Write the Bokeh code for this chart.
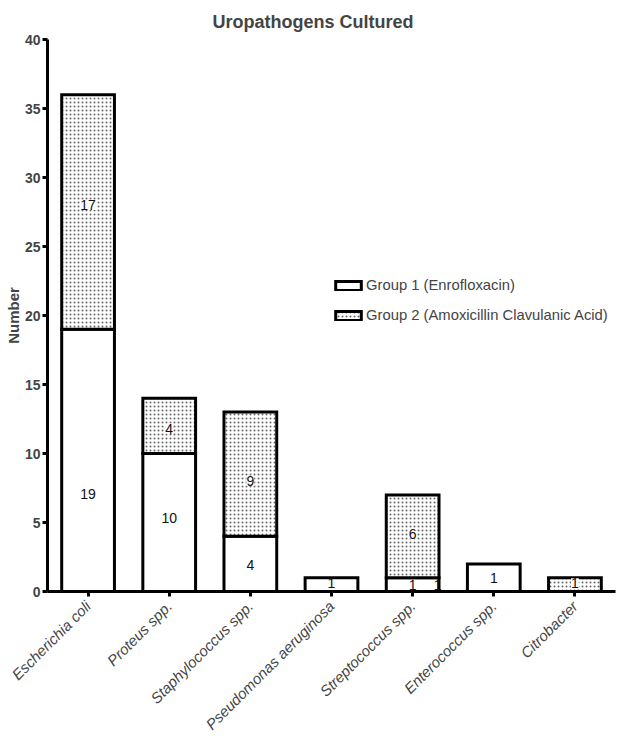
from bokeh.plotting import figure
from bokeh.models import ColumnDataSource, FactorRange, Range1d, Legend, LegendItem, LabelSet, FixedTicker
from bokeh.embed import file_html
from bokeh.resources import INLINE
from bokeh.core.properties import value
import math

categories = ["Escherichia coli", "Proteus spp.", "Staphylococcus spp.",
              "Pseudomonas aeruginosa", "Streptococcus spp.", "Enterococcus spp.", "Citrobacter"]
group1 = [19, 10, 4, 1, 1, 2, 0]
group2 = [17, 4, 9, 0, 6, 0, 1]
# numbers printed inside the bars, as they appear in the chart
group1_labels = ["19", "10", "4", "1", "1", "1", ""]
group2_labels = ["17", "4", "9", "", "6", "", "1"]
group1_label_y = [7.1, 5.3, 1.9, 0.6, 0.45, 0.95, 0]
group2_label_y = [28.0, 11.8, 8.0, 0, 4.2, 0, 0.6]
y_ticks = [0, 5, 10, 15, 20, 25, 30, 35, 40]
series_names = ["Group 1 (Enrofloxacin)", "Group 2 (Amoxicillin Clavulanic Acid)"]

FONT = "Liberation Sans"

p = figure(x_range=FactorRange(*categories), y_range=Range1d(0, 40),
           frame_width=568, frame_height=552,
           min_border_left=47, min_border_right=16, min_border_top=39, min_border_bottom=137,
           output_backend="svg", toolbar_location=None)

p.title.text = "Uropathogens Cultured"
p.title.text_font = FONT
p.title.text_font_size = "18px"
p.title.text_font_style = "bold"
p.title.align = "left"
p.title.offset = 165
p.title.standoff = 16

# stacked segments (skip empty ones)
g1 = dict(x=[], top=[], bottom=[])
g2 = dict(x=[], top=[], bottom=[])
for c, a, b in zip(categories, group1, group2):
    if a > 0:
        g1["x"].append(c); g1["bottom"].append(0); g1["top"].append(a)
    if b > 0:
        g2["x"].append(c); g2["bottom"].append(a); g2["top"].append(a + b)

r1 = p.vbar(x="x", top="top", bottom="bottom", width=0.65, source=ColumnDataSource(g1),
            fill_color="white", line_color="black", line_width=3, line_join="miter")
r2 = p.vbar(x="x", top="top", bottom="bottom", width=0.65, source=ColumnDataSource(g2),
            fill_color="white", line_color="black", line_width=3, line_join="miter",
            hatch_pattern="dot", hatch_scale=4, hatch_weight=1, hatch_color="#666666")

# labels
l1 = dict(x=[], y=[], t=[])
l2 = dict(x=[], y=[], t=[])
for c, t, y in zip(categories, group1_labels, group1_label_y):
    if t:
        l1["x"].append(c); l1["y"].append(y); l1["t"].append(t)
for c, t, y in zip(categories, group2_labels, group2_label_y):
    if t:
        l2["x"].append(c); l2["y"].append(y); l2["t"].append(t)

# stray label at the right edge of the Streptococcus bar
p.text(x=["Streptococcus spp."], y=[0.5], text=["1"], x_offset=25, text_align="center",
       text_baseline="middle", text_font=value(FONT), text_font_size="14px", text_color="#111111")

p.text(x="x", y="y", text="t", source=ColumnDataSource(l1), text_align="center",
       text_baseline="middle", text_font=value(FONT), text_font_size="14px", text_color="#111111")
ls2 = LabelSet(x="x", y="y", text="t", source=ColumnDataSource(l2), text_align="center",
               text_baseline="middle", text_font=value(FONT), text_font_size="14px",
               text_color="#111111", background_fill_color="white", background_fill_alpha=1.0)
p.add_layout(ls2)

legend = Legend(items=[LegendItem(label=series_names[0], renderers=[r1]),
                       LegendItem(label=series_names[1], renderers=[r2])],
                location=(285, 268), orientation="vertical")
legend.label_text_font = FONT
legend.label_text_font_size = "14.8px"
legend.glyph_width = 32
legend.glyph_height = 11
legend.label_standoff = 2
legend.spacing = 14
legend.padding = 0
legend.margin = 0
legend.border_line_color = None
legend.background_fill_alpha = 0
p.add_layout(legend)

p.grid.visible = False
p.outline_line_color = None

for ax in (p.xaxis[0], p.yaxis[0]):
    ax.axis_line_width = 3
    ax.axis_line_color = "black"
    ax.major_tick_line_width = 3
    ax.major_tick_out = 5
    ax.major_tick_in = 0
    ax.minor_tick_line_color = None

p.yaxis.ticker = FixedTicker(ticks=y_ticks)
p.yaxis.major_label_text_font = FONT
p.yaxis.major_label_text_font_size = "14px"
p.yaxis.major_label_text_font_style = "bold"
p.yaxis.major_label_standoff = 2
p.yaxis.axis_label = "Number"
p.yaxis.axis_label_text_font = FONT
p.yaxis.axis_label_text_font_size = "15px"
p.yaxis.axis_label_text_font_style = "bold"
p.yaxis.axis_label_standoff = 0

p.xaxis.major_label_orientation = math.pi / 4
p.xaxis.major_label_text_font = FONT
p.xaxis.major_label_text_font_size = "15px"
p.xaxis.major_label_text_font_style = "italic"
p.xaxis.major_label_standoff = 7
p.xaxis.group_text_font_size = "0px"
p.x_range.range_padding = 0

open("out.html", "w").write(file_html(p, INLINE))
